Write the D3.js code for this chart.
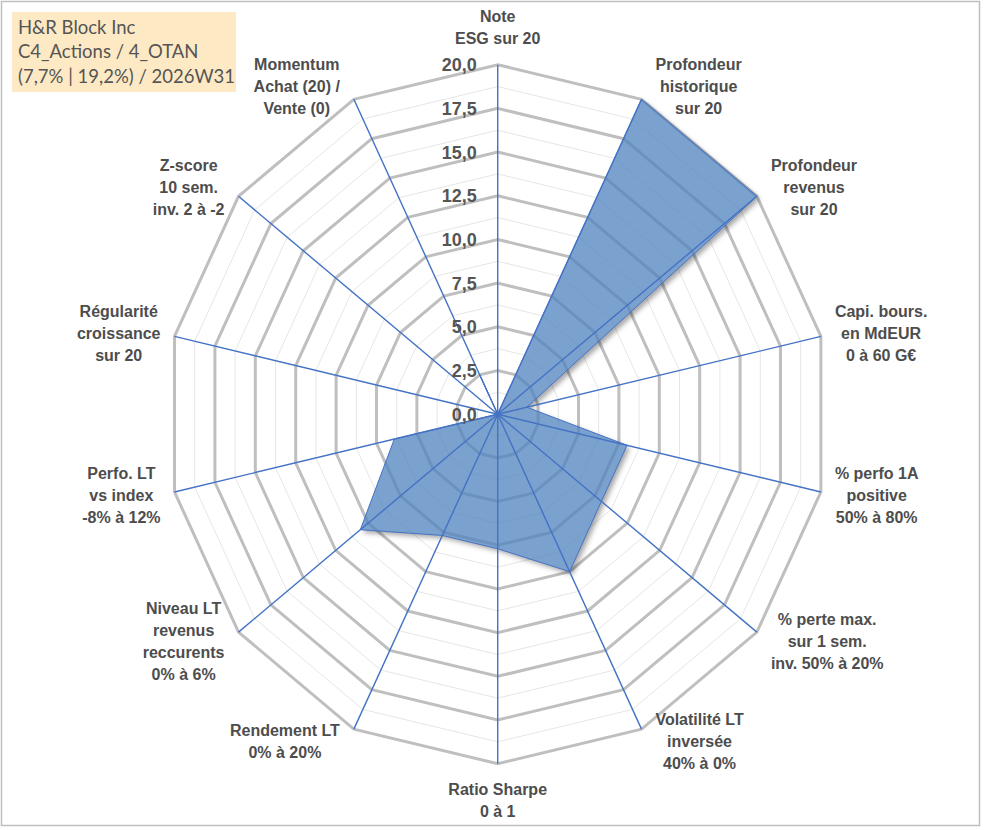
<!DOCTYPE html>
<html>
<head>
<meta charset="utf-8">
<script src="https://cdn.jsdelivr.net/npm/d3@7"></script>
<style>
  body { margin: 0; background: #fff; }
  svg { display: block; }
</style>
</head>
<body>
<svg id="chart"></svg>
<script>
// axis labels, clockwise from the top
const categories = [
  ["Note", "ESG sur 20"],
  ["Profondeur", "historique", "sur 20"],
  ["Profondeur", "revenus", "sur 20"],
  ["Capi. bours.", "en MdEUR", "0 à 60 G€"],
  ["% perfo 1A", "positive", "50% à 80%"],
  ["% perte max.", "sur 1 sem.", "inv. 50% à 20%"],
  ["Volatilité LT", "inversée", "40% à 0%"],
  ["Ratio Sharpe", "0 à 1"],
  ["Rendement LT", "0% à 20%"],
  ["Niveau LT", "revenus", "reccurents", "0% à 6%"],
  ["Perfo. LT", "vs index", "-8% à 12%"],
  ["Régularité", "croissance", "sur 20"],
  ["Z-score", "10 sem.", "inv. 2 à -2"],
  ["Momentum", "Achat (20) /", "Vente (0)"]
];
const values = [0, 20, 20, 1.8, 8.0, 8.0, 10.0, 7.7, 7.7, 10.6, 6.4, 0, 0, 2.5];
const tickValues = [0, 2.5, 5, 7.5, 10, 12.5, 15, 17.5, 20];
const titleLines = ["H&R Block Inc", "C4_Actions / 4_OTAN", "(7,7% | 19,2%) / 2026W31"];

const config = {
  width: 991, height: 830,
  cx: 497.7, cy: 414.2,
  rx: 331.5, ry: 349.5,
  lineH: 22
};

const svg = d3.select("#chart")
  .attr("width", config.width)
  .attr("height", config.height);

const n = categories.length;
const angle = d3.scaleLinear().domain([0, n]).range([0, 2 * Math.PI]);
const r = d3.scaleLinear().domain([0, 20]).range([0, 1]);

const px = (i, v) => config.cx + r(v) * config.rx * Math.sin(angle(i));
const py = (i, v) => config.cy - r(v) * config.ry * Math.cos(angle(i));

const ring = d3.line().curve(d3.curveLinearClosed);
const idx = d3.range(n);
const seriesPath = ring(values.map((v, i) => [px(i, v), py(i, v)]));

// shadow only outside the series area, so the fill keeps its colour
const defs = svg.append("defs");
const blur = defs.append("filter").attr("id", "blur")
  .attr("x", "-20%").attr("y", "-20%").attr("width", "140%").attr("height", "140%");
blur.append("feGaussianBlur").attr("stdDeviation", 2.5);
const mask = defs.append("mask").attr("id", "outside");
mask.append("rect").attr("width", config.width).attr("height", config.height).attr("fill", "#fff");
mask.append("path").attr("d", seriesPath).attr("fill", "#000");

// outer frame
svg.append("rect")
  .attr("x", 1.5).attr("y", 1.5)
  .attr("width", 978).attr("height", 824)
  .attr("fill", "#fff")
  .attr("stroke", "#bfbfbf")
  .attr("stroke-width", 1.5);

const chart = svg.append("g");

// grid rings: thin minor ones then the major ones
const minor = d3.range(1.25, 20, 2.5);
chart.selectAll(".minor")
  .data(minor)
  .join("path")
  .attr("class", "minor")
  .attr("d", v => ring(idx.map(i => [px(i, v), py(i, v)])))
  .attr("fill", "none")
  .attr("stroke", "#e6e6e6")
  .attr("stroke-width", 1);

chart.selectAll(".major")
  .data(tickValues.filter(v => v > 0))
  .join("path")
  .attr("class", "major")
  .attr("d", v => ring(idx.map(i => [px(i, v), py(i, v)])))
  .attr("fill", "none")
  .attr("stroke", "#bfbfbf")
  .attr("stroke-width", 3)
  .attr("stroke-linejoin", "miter");

// data polygon + its shadow
chart.append("g")
  .attr("mask", "url(#outside)")
  .append("path")
  .attr("d", seriesPath)
  .attr("transform", "translate(3,3)")
  .attr("fill", "#000")
  .attr("fill-opacity", 0.35)
  .attr("filter", "url(#blur)");

chart.append("path")
  .attr("d", seriesPath)
  .attr("fill", "#4f81bd")
  .attr("fill-opacity", 0.75)
  .attr("stroke", "#4472c4")
  .attr("stroke-width", 1);

// spokes
chart.selectAll(".spoke")
  .data(idx)
  .join("line")
  .attr("class", "spoke")
  .attr("x1", config.cx).attr("y1", config.cy)
  .attr("x2", i => px(i, 20)).attr("y2", i => py(i, 20))
  .attr("stroke", "#4472c4")
  .attr("stroke-width", 1.4);

// value ticks along the top spoke
chart.selectAll(".tick")
  .data(tickValues)
  .join("text")
  .attr("class", "tick")
  .attr("x", config.cx - 21)
  .attr("y", v => py(0, v))
  .attr("dy", "0.36em")
  .attr("text-anchor", "end")
  .style("font-family", "'Liberation Sans', Arial, sans-serif")
  .style("font-weight", "bold")
  .style("font-size", "18px")
  .style("fill", "#555")
  .text(v => d3.format(".1f")(v).replace(".", ","));

// category labels, placed beside each outer vertex
const labels = chart.selectAll(".cat")
  .data(categories)
  .join("text")
  .attr("class", "cat")
  .attr("text-anchor", "middle")
  .style("font-family", "'Liberation Sans', Arial, sans-serif")
  .style("font-weight", "bold")
  .style("font-size", "16px")
  .style("fill", "#4d4d4d");

labels.selectAll("tspan")
  .data(d => d)
  .join("tspan")
  .text(d => d);

labels.each(function(d, i) {
  const t = d3.select(this);
  let w = 0;
  t.selectAll("tspan").each(function() {
    w = Math.max(w, this.getComputedTextLength());
  });
  const h = d.length * config.lineH;
  const a = angle(i);
  const s = Math.sin(a), c = Math.cos(a);
  const vx = px(i, 20), vy = py(i, 20);
  let lx, ly;
  if (Math.abs(s) < 1e-6) {
    lx = vx;
    ly = vy - Math.sign(c) * (15 + h / 2);
  } else {
    lx = vx + Math.sign(s) * (14 + w / 2);
    ly = vy - c * 14;
  }
  const top = ly - h / 2;
  t.selectAll("tspan")
    .attr("x", lx)
    .attr("y", (_, k) => top + config.lineH * k + config.lineH / 2)
    .attr("dy", "0.36em");
});

// title box
const title = svg.append("g");
title.append("rect")
  .attr("x", 12).attr("y", 12)
  .attr("width", 224).attr("height", 80)
  .attr("fill", "#fde9c4");
title.selectAll("text")
  .data(titleLines)
  .join("text")
  .attr("x", 18)
  .attr("y", (d, k) => 27 + k * 24.5)
  .attr("dy", "0.36em")
  .style("font-family", "Lato, 'Open Sans', sans-serif")
  .style("font-size", "18.5px")
  .style("fill", "#555")
  .text(d => d);
</script>
</body>
</html>
